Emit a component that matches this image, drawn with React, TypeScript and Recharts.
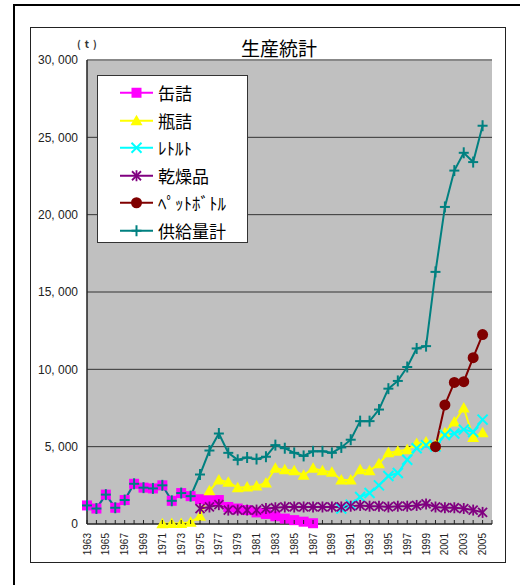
import React from "react";
import {
  ComposedChart,
  Line,
  XAxis,
  YAxis,
  CartesianGrid,
  ReferenceLine,
} from "recharts";

// 年 (2006 は空の区間)
const years = [
  1963, 1964, 1965, 1966, 1967, 1968, 1969, 1970, 1971, 1972, 1973, 1974,
  1975, 1976, 1977, 1978, 1979, 1980, 1981, 1982, 1983, 1984, 1985, 1986,
  1987, 1988, 1989, 1990, 1991, 1992, 1993, 1994, 1995, 1996, 1997, 1998,
  1999, 2000, 2001, 2002, 2003, 2004, 2005, 2006,
];

const gap = (n: number): (number | null)[] => Array(n).fill(null);

// 缶詰 1963-1987
const canned = [
  1200, 1000, 1900, 1050, 1550, 2600, 2350, 2300, 2500, 1500, 2000, 1800,
  1600, 1550, 1550, 1100, 1000, 900, 750, 650, 500, 350, 250, 150, 50,
  ...gap(19),
];

// 瓶詰 1971-2005
const bottled = [
  ...gap(8),
  20, 40, 30, 120, 500, 2150, 2850, 2700, 2350, 2400, 2450, 2650, 3600, 3500,
  3450, 3150, 3600, 3450, 3350, 2850, 2850, 3500, 3450, 3900, 4600, 4700,
  4800, 5200, 5300, 5100, 5900, 6600, 7500, 5600, 5900,
  null,
];

// レトルト 1990-2005
const retort = [
  ...gap(27),
  1000, 1250, 1750, 2000, 2500, 3100, 3300, 4150, 4900, 5100, 5000, 5750,
  5850, 6100, 5950, 6750,
  null,
];

// 乾燥品 1975-2005
const dried = [
  ...gap(12),
  1000, 1100, 1250, 900, 900, 900, 900, 1000, 1050, 1100, 1100, 1100, 1100,
  1100, 1100, 1100, 1150, 1200, 1150, 1150, 1100, 1150, 1150, 1200, 1300,
  1100, 1050, 1050, 1000, 900, 750,
  null,
];

// ペットボトル 2000-2005
const pet = [...gap(37), 5000, 7700, 9150, 9200, 10750, 12250, null];

// 供給量計 1963-2005
const total = [
  1200, 1000, 1900, 1050, 1550, 2600, 2350, 2300, 2500, 1500, 2000, 1800,
  3200, 4750, 5850, 4600, 4150, 4300, 4200, 4350, 5100, 4900, 4600, 4400,
  4700, 4700, 4600, 4950, 5450, 6650, 6650, 7400, 8750, 9250, 10150, 11350,
  11500, 16300, 20500, 22850, 24000, 23400, 25750,
  null,
];

const yTicks = [0, 5000, 10000, 15000, 20000, 25000, 30000];

type Kind = "square" | "triangle" | "cross" | "star" | "circle" | "plus";

const series: { key: string; name: string; color: string; kind: Kind; values: (number | null)[] }[] = [
  { key: "canned", name: "缶詰", color: "#FF00FF", kind: "square", values: canned },
  { key: "bottled", name: "瓶詰", color: "#FFFF00", kind: "triangle", values: bottled },
  { key: "retort", name: "ﾚﾄﾙﾄ", color: "#00FFFF", kind: "cross", values: retort },
  { key: "dried", name: "乾燥品", color: "#800080", kind: "star", values: dried },
  { key: "pet", name: "ﾍﾟｯﾄﾎﾞﾄﾙ", color: "#800000", kind: "circle", values: pet },
  { key: "total", name: "供給量計", color: "#008080", kind: "plus", values: total },
];

const data = years.map((y, i) => {
  const row: Record<string, string | number | null> = { year: String(y) };
  series.forEach((s) => {
    row[s.key] = s.values[i] ?? null;
  });
  return row;
});

const NUM_FONT = "'Liberation Sans', Arial, sans-serif";
const JP_FONT = "'Noto Sans CJK JP', sans-serif";

function marker(kind: Kind, color: string, cx: number, cy: number) {
  switch (kind) {
    case "square":
      return <rect x={cx - 5} y={cy - 5} width={10} height={10} fill={color} />;
    case "triangle":
      return (
        <polygon
          points={`${cx},${cy - 6} ${cx - 6},${cy + 4.5} ${cx + 6},${cy + 4.5}`}
          fill={color}
        />
      );
    case "cross":
      return (
        <g stroke={color} strokeWidth={2}>
          <line x1={cx - 5} y1={cy - 5} x2={cx + 5} y2={cy + 5} />
          <line x1={cx - 5} y1={cy + 5} x2={cx + 5} y2={cy - 5} />
        </g>
      );
    case "star":
      return (
        <g stroke={color} strokeWidth={1.8}>
          <line x1={cx - 4.5} y1={cy - 4.5} x2={cx + 4.5} y2={cy + 4.5} />
          <line x1={cx - 4.5} y1={cy + 4.5} x2={cx + 4.5} y2={cy - 4.5} />
          <line x1={cx} y1={cy - 5.5} x2={cx} y2={cy + 5.5} />
        </g>
      );
    case "circle":
      return <circle cx={cx} cy={cy} r={5.5} fill={color} />;
    case "plus":
      return (
        <g stroke={color} strokeWidth={2}>
          <line x1={cx - 5} y1={cy} x2={cx + 5} y2={cy} />
          <line x1={cx} y1={cy - 5.5} x2={cx} y2={cy + 5.5} />
        </g>
      );
  }
}

const makeDot = (kind: Kind, color: string) => (props: any) => {
  const { cx, cy, index } = props;
  if (cx == null || cy == null || props.value == null) return <g key={index} />;
  return <g key={index}>{marker(kind, color, cx, cy)}</g>;
};

function XTick(props: any) {
  const { x, y, payload } = props;
  const yr = Number(payload.value);
  const half = payload.offset ?? 4.6;
  const ty = y + 9;
  return (
    <g>
      <line x1={x + half} x2={x + half} y1={y} y2={y - 4} stroke="#222" strokeWidth={1} />
      {yr % 2 === 1 && (
        <text
          x={x}
          y={ty}
          transform={`rotate(-90 ${x} ${ty})`}
          textAnchor="end"
          dominantBaseline="central"
          fontSize={10}
          fontFamily={NUM_FONT}
          fill="#222"
        >
          {yr}
        </text>
      )}
    </g>
  );
}

const fmtY = (v: number) => (v === 0 ? "0" : v.toLocaleString("en-US").replace(",", ", "));

export default function App() {
  return (
    <div style={{ position: "absolute", left: 0, top: 0, width: 520, height: 585, overflow: "hidden", background: "#fff" }}>
      {/* 外枠 */}
      <div
        style={{
          position: "absolute",
          left: 13,
          top: 4,
          width: 540,
          height: 620,
          borderLeft: "2px solid #000",
          borderTop: "2px solid #000",
        }}
      />
      {/* 内枠 */}
      <div
        style={{
          position: "absolute",
          left: 30,
          top: 27,
          width: 476,
          height: 536,
          border: "1px solid #222",
          boxSizing: "border-box",
        }}
      />
      <div
        style={{
          position: "absolute",
          left: 200,
          top: 36,
          width: 158,
          textAlign: "center",
          fontFamily: JP_FONT,
          fontSize: 19,
          lineHeight: "24px",
          color: "#000",
        }}
      >
        生産統計
      </div>
      <div
        style={{
          position: "absolute",
          left: 77,
          top: 37,
          fontFamily: JP_FONT,
          fontSize: 10,
          lineHeight: "14px",
          letterSpacing: 4,
          fontWeight: 700,
          color: "#333",
        }}
      >
        (t)
      </div>
      <div style={{ position: "absolute", left: 0, top: 0 }}>
        <ComposedChart
          width={520}
          height={585}
          data={data}
          margin={{ top: 60, right: 28, bottom: 16, left: 27 }}
        >
          <CartesianGrid
            vertical={false}
            fill="#C0C0C0"
            fillOpacity={1}
            stroke="#333"
            horizontalValues={[5000, 10000, 15000, 20000, 25000]}
          />
          <XAxis
            dataKey="year"
            interval={0}
            height={45}
            tickLine={false}
            tickSize={0}
            tickMargin={0}
            axisLine={{ stroke: "#222", strokeWidth: 1.5 }}
            tick={<XTick />}
          />
          <YAxis
            width={60}
            domain={[0, 30000]}
            ticks={yTicks}
            interval={0}
            tickFormatter={fmtY}
            tickLine={false}
            tickSize={0}
            tickMargin={9}
            axisLine={{ stroke: "#222", strokeWidth: 1.5 }}
            tick={{ fontSize: 12, fontFamily: NUM_FONT, fill: "#222" }}
          />
          <YAxis
            yAxisId="frame"
            orientation="right"
            width={0}
            domain={[0, 30000]}
            tick={false}
            tickLine={false}
            axisLine={{ stroke: "#888", strokeWidth: 2 }}
          />
          <ReferenceLine y={30000} stroke="#888" strokeWidth={2} />
          {series.map((s) => (
            <Line
              key={s.key}
              dataKey={s.key}
              name={s.name}
              type="linear"
              stroke={s.color}
              strokeWidth={2}
              dot={makeDot(s.kind, s.color)}
              activeDot={false}
              connectNulls={false}
              isAnimationActive={false}
            />
          ))}
        </ComposedChart>
      </div>
      {/* 凡例 */}
      <div
        style={{
          position: "absolute",
          left: 97,
          top: 75,
          width: 151,
          height: 168,
          background: "#fff",
          border: "1px solid #333",
          boxSizing: "border-box",
          paddingTop: 3,
        }}
      >
        {series.map((s) => (
          <div key={s.key} style={{ position: "relative", height: 27.5 }}>
            <svg width={40} height={27.5} style={{ position: "absolute", left: 20, top: 0 }}>
              <line x1={2} x2={35} y1={13.75} y2={13.75} stroke={s.color} strokeWidth={2} />
              {marker(s.kind, s.color, 18.5, 13.75)}
            </svg>
            <span
              style={{
                position: "absolute",
                left: 60,
                top: 0,
                lineHeight: "27.5px",
                fontFamily: JP_FONT,
                fontSize: 17,
                color: "#000",
              }}
            >
              {s.name}
            </span>
          </div>
        ))}
      </div>
    </div>
  );
}
